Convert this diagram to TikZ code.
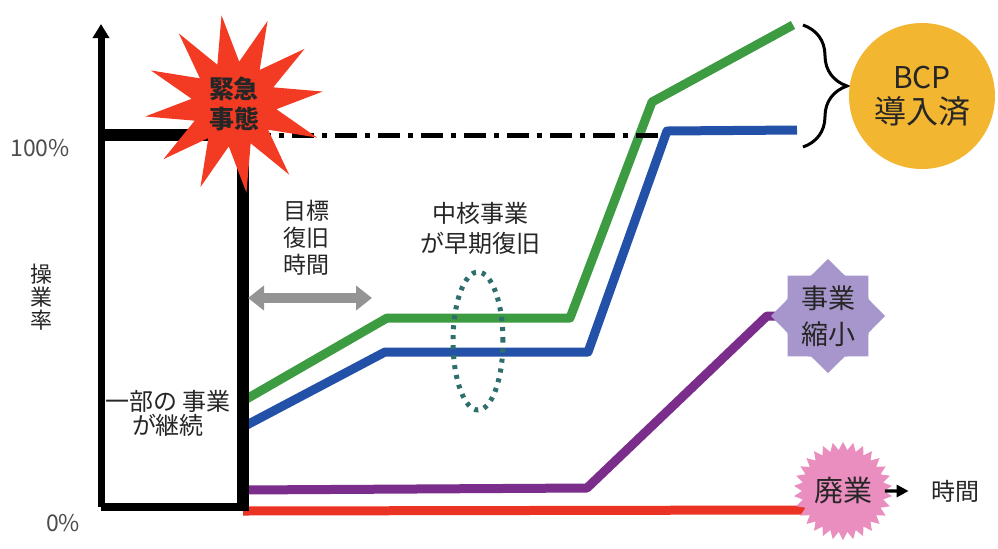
\documentclass[tikz,border=0pt]{standalone}
\usepackage{fontspec}
\setmainfont{Noto Sans CJK JP}
\usepackage{tikz}
\usetikzlibrary{positioning,shapes.geometric,arrows.meta,decorations.pathreplacing}

\definecolor{coregreen}{RGB}{61,155,65}
\definecolor{coreblue}{RGB}{36,81,168}
\definecolor{shrinkpurple}{RGB}{123,45,140}
\definecolor{closered}{RGB}{234,51,35}
\definecolor{alarmred}{RGB}{243,58,34}
\definecolor{bcpyellow}{RGB}{243,182,49}
\definecolor{lavender}{RGB}{166,150,204}
\definecolor{closepink}{RGB}{234,141,191}
\definecolor{dotteal}{RGB}{46,111,110}

\begin{document}
\begin{tikzpicture}[x=0.5pt,y=-0.5pt,
                    rate/.style={line width=4.5pt,line join=round},
                    frame/.style={line width=6pt},
                    label/.style={align=center,inner sep=1pt,text=black!85,font=\fontsize{11.5}{13.5}\selectfont},
                    burst/.style={star,inner sep=0pt,text=black!85}
                ]
    \useasboundingbox[fill=white] (0,0) rectangle (998,548);

    \coordinate (top) at (101,24);
    \coordinate (o) at (101,507);
    \coordinate (full) at (101,135);
    \coordinate (ev) at (243,135);
    \coordinate (evo) at (243,507);
    \coordinate (evb) at (243,511);

    \coordinate (g0) at (243,401);
    \coordinate (g1) at (387,318);
    \coordinate (g2) at (570,318);
    \coordinate (g3) at (652,102);
    \coordinate (g4) at (793,25);
    \coordinate (b0) at (243,427);
    \coordinate (b1) at (385,352);
    \coordinate (b2) at (588,352);
    \coordinate (b3) at (667,131);
    \coordinate (b4) at (797,130);
    \coordinate (p0) at (243,490);
    \coordinate (p1) at (587,488);
    \coordinate (p2) at (767,316);
    \coordinate (p3) at (800,316);
    \coordinate (r0) at (243,511);
    \coordinate (r1) at (805,510);

    \draw[rate,coregreen] (g0) -- (g1) -- (g2) -- (g3) -- (g4);
    \draw[rate,coreblue] (b0) -- (b1) -- (b2) -- (b3) -- (b4);
    \draw[rate,shrinkpurple] (p0) -- (p1) -- (p2) -- (p3);
    \draw[rate,closered] (r0) -- (r1);

    \draw[line width=3.5pt,-{Triangle[width=8pt,length=7pt]}] (o) -- (top);
    \draw[line width=4pt] (o) -- (evo);
    \draw[frame] (full) -- (ev);
    \draw[frame] (ev) -- (evb);
    \draw[line width=2.5pt,dash pattern=on 11pt off 4pt on 2.5pt off 4pt] (249,135) -- (660,135);

    \coordinate (ta) at (248,298);
    \coordinate (tb) at (372,298);
    \draw[line width=5pt,black!42,{Triangle[width=12pt,length=8pt]}-{Triangle[width=12pt,length=8pt]}] (ta) -- (tb);

    \node[ellipse,draw=dotteal,line width=2.5pt,dash pattern=on 2pt off 3pt,
          minimum width=25pt,minimum height=69pt] (core) at (478,341) {};

    \node[burst,fill=alarmred,star points=12,star point ratio=2.1,minimum size=84pt,rotate=8,
          font=\bfseries\fontsize{12.5}{15}\selectfont,align=center] (alarm) at (234,104) {\rotatebox{-8}{\shortstack{緊急\\事態}}};

    \coordinate (bt) at (803,25);
    \coordinate (bb) at (803,147);
    \draw[line width=1.5pt,decorate,decoration={brace,amplitude=22pt}] (bt) -- (bb);
    \node[circle,fill=bcpyellow,minimum size=73pt,inner sep=0pt,align=center,text=black!85] (bcp) at (922,96)
        {{\fontsize{15}{17}\selectfont BCP}\\[3pt]{\fontsize{16}{18}\selectfont 導入済}};

    \node[burst,fill=lavender,star points=8,star point ratio=1.3,minimum size=57pt,align=center,
          font=\fontsize{13.5}{18}\selectfont] (shrink) at (828,316) {事業\\縮小};

    \node[burst,fill=closepink,star points=30,star point ratio=1.2,minimum size=48pt,
          font=\fontsize{14.5}{16}\selectfont] (close) at (843,491) {廃業};
    \node[label,font=\fontsize{12}{14}\selectfont] (time) at (955,491) {時間};
    \draw[line width=1.6pt,shorten >=10pt,-{Triangle[width=6pt,length=6pt]}] (close.east) -- (time.west);

    \node[label] (goal) at (306,238) {目標\\復旧\\時間};
    \node[label,font=\fontsize{12}{15}\selectfont] (early) at (480,228) {中核事業\\が早期復旧};
    \node[label,font=\fontsize{12}{12}\selectfont] (part) at (168,413) {一部の 事業\\が継続};
    \node[label,text=black!70] (pct100) at (40,148) {100\%};
    \node[label,text=black!70] (pct0) at (63,523) {0\%};
    \node[label,font=\fontsize{11}{11.5}\selectfont] (ratio) at (42,297) {操\\業\\率};
\end{tikzpicture}
\end{document}
